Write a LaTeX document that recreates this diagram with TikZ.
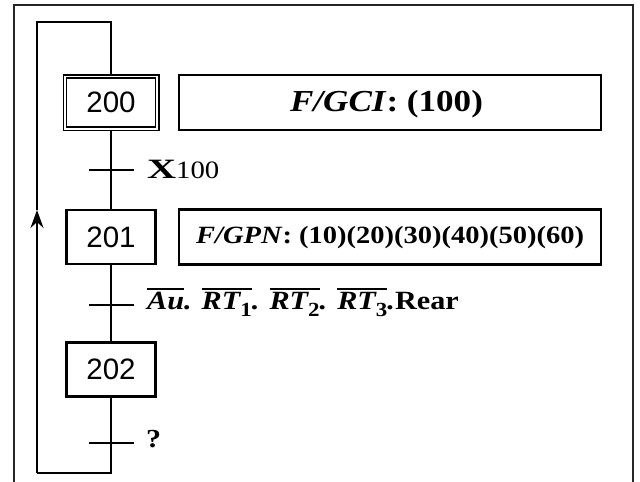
\documentclass[tikz,border=0pt]{standalone}
\usepackage{fontspec}
\setmainfont{Liberation Serif}
\newfontfamily\stepfont{Liberation Sans}
\newfontfamily\labfont[FakeStretch=1.15]{Liberation Serif}
\usetikzlibrary{arrows.meta}
\newcommand\ovl[1]{\leavevmode\vbox{\hrule height 1.6pt\kern 1.8pt\hbox{#1}}}
\newcommand\sbx[1]{\raisebox{-0.3em}{\upshape\fontsize{20}{20}\selectfont #1}}
\begin{document}
\begin{tikzpicture}[x=1pt,y=-1pt,line width=2.2pt,
  stepbox/.style={draw, line width=2.2pt, minimum width=89pt, minimum height=54pt, inner sep=0pt,
    font=\stepfont\fontsize{29.5}{29.5}\selectfont},
  initbox/.style={stepbox, double, double distance=1.8pt, line width=1.5pt,
    minimum width=92.2pt, minimum height=52.2pt, outer sep=2.4pt},
  actbox/.style={draw, line width=2.2pt, minimum width=422pt, minimum height=55pt, inner sep=0pt},
  lab/.style={font=\labfont\bfseries\fontsize{25}{30}\selectfont, inner sep=0pt, anchor=base west},
  frame/.style={line width=2pt, black!85}]
\useasboundingbox (0,0) rectangle (640,482);
\fill[white] (0,0) rectangle (640,482);
\draw[frame] (14,482) -- (14,5) -- (633,5) -- (633,482);

\node[initbox] (s200) at (111,102.5) {200};
\node[stepbox] (s201) at (111,237) {201};
\node[stepbox] (s202) at (111,369.5) {202};
\node[actbox] (a200) at (390,102.5) {};
\node[actbox] (a201) at (390,237) {};

\node[lab, anchor=base] (t200) at (386.5,111) {\fontsize{30.5}{34}\selectfont\textit{F/GCI}: (100)};
\node[lab] (t201) at (195,243.5) {\fontsize{24.8}{30}\selectfont\textit{F/GPN}: (10)(20)(30)(40)(50)(60)};

\coordinate (c1) at (111,170);
\coordinate (c2) at (111,305);
\coordinate (c3) at (111,443);
\coordinate (br) at (111,473);
\coordinate (bl) at (37,473);
\coordinate (ar) at (37,210);
\coordinate (tl) at (37,22);
\coordinate (tr) at (111,22);

\draw (s200.south) -- (s201.north);
\draw (s201.south) -- (s202.north);
\draw (s202.south) -- (br) -- (bl);
\draw[-{Stealth[length=18pt,width=13pt,inset=6pt]}] (bl) -- (ar);
\draw (ar) -- (tl) -- (tr) -- (s200.north);

\foreach \c in {c1,c2,c3}
  \draw ([xshift=-22.5pt]\c) -- ([xshift=22.5pt]\c);

\node[lab] (l1) at (146,178) {\scalebox{1.25}[1]{\fontsize{28}{30}\selectfont X}\mdseries\fontsize{25}{30}\selectfont 100};
\node[lab] (l2) at (146,309) {\fontsize{26.3}{30}\selectfont\itshape\ovl{Au}. \ovl{RT\sbx{1}}. \ovl{RT\sbx{2}}. \ovl{RT\sbx{3}}.\upshape Rear};
\node[lab] (l3) at (145,447) {\fontsize{26}{30}\selectfont ?};
\end{tikzpicture}
\end{document}
